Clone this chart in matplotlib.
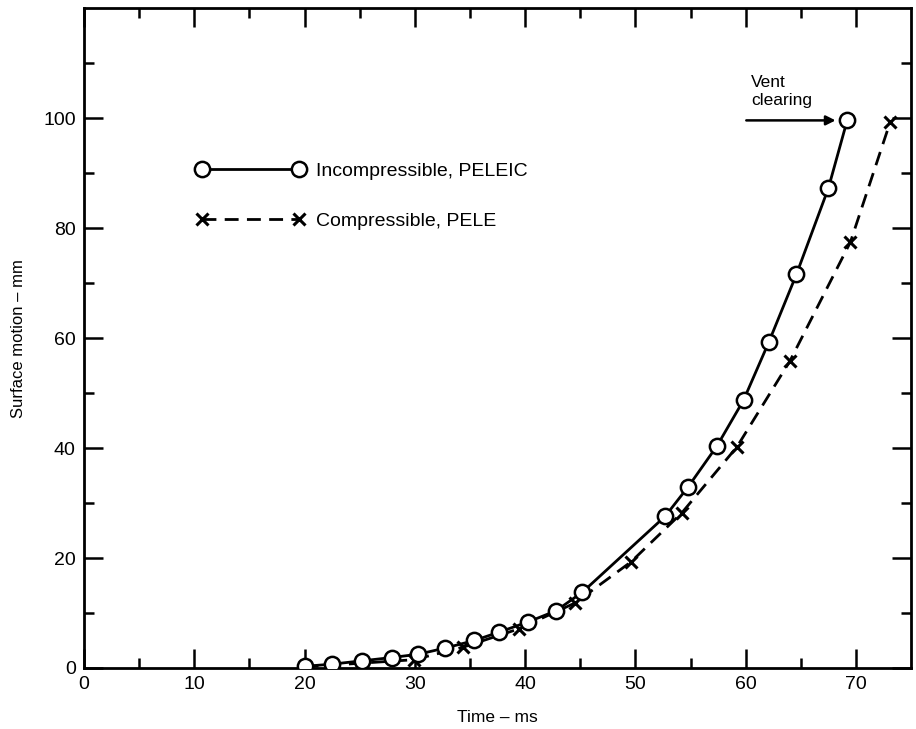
import matplotlib
matplotlib.use("Agg")
import matplotlib.pyplot as plt
from matplotlib.ticker import MultipleLocator, FixedLocator

plt.rcParams['font.family'] = ['Liberation Sans', 'DejaVu Sans']

# datos
t_incomp = [20.0, 22.5, 25.2, 27.9, 30.3, 32.7, 35.4, 37.6, 40.3, 42.8, 45.2,
            52.7, 54.8, 57.4, 59.8, 62.1, 64.6, 67.5, 69.2]
z_incomp = [0.3, 0.7, 1.3, 1.9, 2.5, 3.6, 5.0, 6.5, 8.4, 10.4, 13.8,
            27.6, 33.0, 40.4, 48.7, 59.3, 71.6, 87.3, 99.6]

t_comp = [20.0, 29.9, 34.4, 39.4, 44.5, 49.6, 54.2, 59.2, 64.0, 69.5, 73.1]
z_comp = [0.2, 1.5, 3.8, 7.1, 11.8, 19.3, 28.2, 40.2, 55.8, 77.5, 99.3]

lbl_incomp = "Incompressible, PELEIC"
lbl_comp = "Compressible, PELE"

fig = plt.figure(figsize=(9.16, 7.29), dpi=100)
ax = fig.add_axes([0.0917, 0.0837, 0.903, 0.905])

ax.plot(t_comp, z_comp, color='black', lw=2, ls=(0, (5, 3)),
        marker='x', ms=8, mew=2.2, label=lbl_comp, zorder=2)
ax.plot(t_incomp, z_incomp, color='black', lw=2, ls='-',
        marker='o', ms=11, mfc='white', mec='black', mew=1.8,
        label=lbl_incomp, zorder=3)

ax.set_xlim(0, 75)
ax.set_ylim(0, 120)

ax.xaxis.set_major_locator(MultipleLocator(10))
ax.xaxis.set_minor_locator(FixedLocator([5, 15, 25, 35, 45, 55, 65]))
ax.yaxis.set_major_locator(FixedLocator([0, 20, 40, 60, 80, 100]))
ax.yaxis.set_minor_locator(FixedLocator([10, 30, 50, 70, 90, 110]))

ax.tick_params(which='both', direction='in', top=True, right=True,
               width=1.8, labelsize=14, pad=6)
ax.tick_params(which='major', length=14)
ax.tick_params(which='minor', length=7)
for s in ax.spines.values():
    s.set_linewidth(2)

ax.set_xlabel("Time \u2013 ms", fontsize=12.5, labelpad=12)
ax.set_ylabel("Surface motion \u2013 mm", fontsize=12, labelpad=12)

h, l = ax.get_legend_handles_labels()
ax.legend(h[::-1], l[::-1], loc='upper left', bbox_to_anchor=(0.114, 0.793),
          frameon=False, numpoints=2, handlelength=5.6, handletextpad=0.6,
          labelspacing=1.65, fontsize=14)

ax.annotate("", xy=(68.4, 99.6), xytext=(59.8, 99.6),
            arrowprops=dict(arrowstyle='-|>', color='black', lw=1.8,
                            mutation_scale=14))
ax.text(60.5, 101.8, "Vent\nclearing", fontsize=12.5, ha='left', va='bottom',
        linespacing=1.25)

fig.savefig("out.png", dpi=100)
